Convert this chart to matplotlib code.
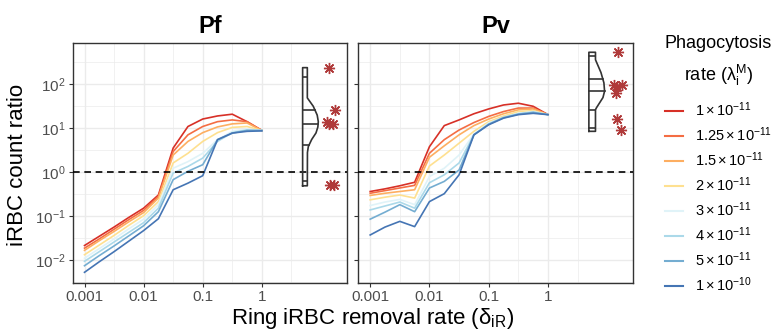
import numpy as np
import matplotlib
matplotlib.use("Agg")
import matplotlib.pyplot as plt
from matplotlib.lines import Line2D
from matplotlib.ticker import FixedLocator, NullFormatter

plt.rcParams['font.family'] = ['Liberation Sans', 'DejaVu Sans']
plt.rcParams['mathtext.fontset'] = 'custom'
plt.rcParams['mathtext.rm'] = 'Liberation Sans'
plt.rcParams['mathtext.it'] = 'Liberation Sans:italic'

# removal rate, quarter decades from 0.001 to 1
delta = 10 ** np.arange(-3, 0.01, 0.25)

rate_labels = [r'$1\times10^{-11}$', r'$1.25\times10^{-11}$', r'$1.5\times10^{-11}$',
               r'$2\times10^{-11}$', r'$3\times10^{-11}$', r'$4\times10^{-11}$',
               r'$5\times10^{-11}$', r'$1\times10^{-10}$']
colors = ['#D73027', '#F46D43', '#FDAE61', '#FEE090', '#E0F3F8', '#ABD9E9', '#74ADD1', '#4575B4']

# log10 of iRBC count ratio, one row per phagocytosis rate
pf_log = [
    [-1.67, -1.46, -1.25, -1.03, -0.82, -0.52, 0.55, 1.04, 1.21, 1.28, 1.32, 1.15, 0.95],
    [-1.73, -1.52, -1.30, -1.08, -0.87, -0.55, 0.47, 0.85, 1.04, 1.15, 1.19, 1.15, 0.95],
    [-1.78, -1.56, -1.35, -1.13, -0.92, -0.59, 0.39, 0.70, 0.90, 1.03, 1.10, 1.12, 0.95],
    [-1.88, -1.66, -1.44, -1.21, -0.99, -0.67, 0.21, 0.43, 0.70, 0.90, 1.02, 1.04, 0.95],
    [-1.96, -1.74, -1.52, -1.29, -1.07, -0.74, 0.09, 0.24, 0.43, 0.74, 0.93, 0.98, 0.95],
    [-2.03, -1.81, -1.59, -1.37, -1.15, -0.82, -0.02, 0.13, 0.32, 0.70, 0.90, 0.96, 0.95],
    [-2.13, -1.90, -1.68, -1.45, -1.22, -0.90, -0.17, 0.02, 0.17, 0.74, 0.89, 0.95, 0.95],
    [-2.28, -2.04, -1.81, -1.57, -1.33, -1.06, -0.40, -0.25, -0.08, 0.74, 0.89, 0.93, 0.94],
]
pv_log = [
    [-0.44, -0.38, -0.31, -0.23, 0.58, 1.06, 1.19, 1.33, 1.44, 1.53, 1.57, 1.50, 1.31],
    [-0.48, -0.42, -0.36, -0.30, 0.43, 0.74, 0.96, 1.13, 1.27, 1.38, 1.46, 1.46, 1.31],
    [-0.53, -0.48, -0.44, -0.40, 0.34, 0.60, 0.85, 1.06, 1.21, 1.33, 1.42, 1.44, 1.31],
    [-0.63, -0.57, -0.52, -0.59, 0.14, 0.39, 0.66, 0.93, 1.15, 1.28, 1.38, 1.40, 1.31],
    [-0.76, -0.68, -0.62, -0.74, -0.10, 0.09, 0.39, 0.87, 1.12, 1.25, 1.34, 1.38, 1.31],
    [-0.86, -0.77, -0.68, -0.82, -0.24, -0.06, 0.21, 0.85, 1.10, 1.25, 1.33, 1.37, 1.31],
    [-1.07, -0.91, -0.74, -0.90, -0.36, -0.21, 0.05, 0.85, 1.09, 1.24, 1.32, 1.36, 1.31],
    [-1.43, -1.25, -1.12, -1.24, -0.67, -0.49, -0.06, 0.85, 1.08, 1.23, 1.31, 1.34, 1.31],
]

# observed ratios (log10), with their horizontal jitter (log10 of x)
pf_obs_y = [2.37, 1.42, 1.14, 1.09, 1.10, -0.30, -0.30]
pf_obs_x = [1.13, 1.23, 1.11, 1.14, 1.20, 1.16, 1.22]
pv_obs_y = [2.73, 1.99, 1.99, 1.95, 1.81, 1.21, 0.95]
pv_obs_x = [1.18, 1.11, 1.25, 1.16, 1.14, 1.16, 1.24]

# half violin: density profile (relative width) at log10 levels, plus quantile lines
pf_vio_y = [-0.31, 0.43, 0.58, 0.74, 0.89, 1.02, 1.15, 1.30, 1.50, 1.69, 2.38]
pf_vio_w = [0.30, 0.30, 0.36, 0.57, 0.85, 0.97, 1.00, 0.93, 0.68, 0.30, 0.30]
pf_vio_q = [-0.21, 0.62, 1.10, 1.42, 2.16]
pv_vio_y = [0.93, 1.42, 1.46, 1.57, 1.69, 1.84, 2.03, 2.26, 2.41, 2.56, 2.73]
pv_vio_w = [0.42, 0.42, 0.47, 0.67, 0.89, 1.00, 0.96, 0.78, 0.60, 0.42, 0.42]
pv_vio_q = [1.00, 1.42, 1.84, 2.13, 2.65]

panels = [('Pf', pf_log, pf_obs_x, pf_obs_y, pf_vio_y, pf_vio_w, pf_vio_q),
          ('Pv', pv_log, pv_obs_x, pv_obs_y, pv_vio_y, pv_vio_w, pv_vio_q)]

fig = plt.figure(figsize=(7.79, 3.30), dpi=100)
ax_pos = [[0.0933, 0.1433, 0.3521, 0.7273], [0.4600, 0.1433, 0.3530, 0.7273]]

vio_x0 = 0.69     # log10 x of violin left edge
vio_wmax = 0.265  # log10 width of widest part
border = '#333333'

for i, (name, logs, ox, oy, vy, vw, vq) in enumerate(panels):
    ax = fig.add_axes(ax_pos[i])
    ax.set_xscale('log')
    ax.set_yscale('log')
    ax.set_xlim(10 ** -3.2, 10 ** 1.44)
    ax.set_ylim(10 ** -2.517, 10 ** 2.948)

    ax.xaxis.set_major_locator(FixedLocator([0.001, 0.01, 0.1, 1]))
    ax.xaxis.set_minor_locator(FixedLocator(10 ** np.array([-2.5, -1.5, -0.5, 0.5])))
    ax.xaxis.set_minor_formatter(NullFormatter())
    ax.set_xticklabels(['0.001', '0.01', '0.1', '1'])
    ax.yaxis.set_major_locator(FixedLocator(10.0 ** np.arange(-2, 3)))
    ax.yaxis.set_minor_locator(FixedLocator(10 ** np.arange(-2.5, 3, 1.0)))
    ax.yaxis.set_minor_formatter(NullFormatter())
    ax.grid(True, which='major', color='#EBEBEB', lw=1.0, zorder=0)
    ax.grid(True, which='minor', color='#EBEBEB', lw=0.5, zorder=0)
    ax.set_axisbelow(True)
    ax.tick_params(which='major', length=3, width=0.8, color=border,
                   labelcolor='#4D4D4D', labelsize=11, pad=2)
    ax.tick_params(which='minor', length=0)
    if i == 1:
        ax.set_yticklabels([])
    for s in ax.spines.values():
        s.set_color(border)
        s.set_linewidth(1.0)

    for row, c in zip(logs, colors):
        ax.plot(delta, 10 ** np.array(row), color=c, lw=1.2, zorder=3)

    ax.axhline(1, color='black', lw=1.2, dashes=(4, 2.8), zorder=4)

    # half violin
    yy = np.linspace(vy[0], vy[-1], 200)
    ww = np.interp(yy, vy, vw)
    xs = np.concatenate([[vio_x0], vio_x0 + ww * vio_wmax, [vio_x0, vio_x0]])
    ys = np.concatenate([[yy[0]], yy, [yy[-1], yy[0]]])
    ax.plot(10 ** xs, 10 ** ys, color=border, lw=1.2, zorder=5)
    for q in vq:
        wq = np.interp(q, vy, vw)
        ax.plot([10 ** vio_x0, 10 ** (vio_x0 + wq * vio_wmax)], [10 ** q, 10 ** q],
                color=border, lw=1.2, zorder=5)

    ax.plot(10 ** np.array(ox), 10 ** np.array(oy), ls='none', marker=(8, 2, 0),
            ms=8, mew=1.0, color='#B03A3A', zorder=6)

    ax.set_title(name, fontsize=17, fontweight='bold', pad=7)

fig.text(0.023, 0.5, 'iRBC count ratio', rotation=90, va='center', ha='center', fontsize=16)
fig.text(0.478, 0.035, r'Ring iRBC removal rate ($\mathrm{\delta}_{\mathrm{iR}}$)', ha='center',
         va='center', fontsize=16)

handles = [Line2D([0], [0], color=c, lw=1.5) for c in colors]
leg = fig.legend(handles, rate_labels, loc='upper left', bbox_to_anchor=(0.853, 0.895),
                 frameon=False, fontsize=10.5, handlelength=1.25, handletextpad=0.8,
                 borderpad=0, borderaxespad=0, labelspacing=0.44,
                 title='Phagocytosis\nrate ($\\mathrm{\\lambda}_{\\mathrm{i}}^{\\mathrm{M}}$)',
                 title_fontsize=13)
leg.get_title().set_multialignment('center')
leg.get_title().set_linespacing(1.6)
leg._legend_box.sep = 9

fig.savefig('out.png', dpi=100)
